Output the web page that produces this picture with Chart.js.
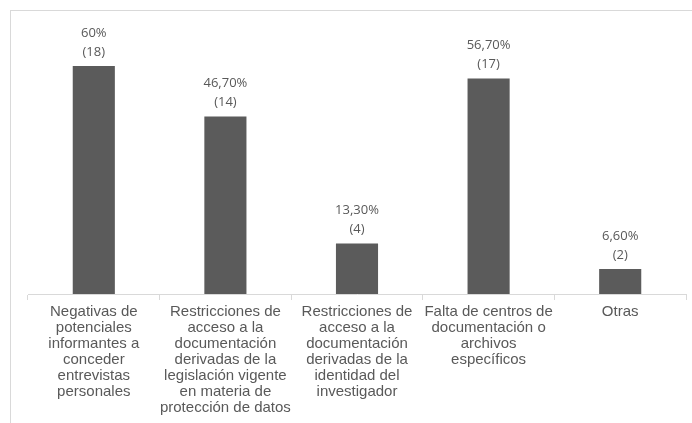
<!DOCTYPE html>
<html>
<head>
<meta charset="utf-8">
<script src="https://cdn.jsdelivr.net/npm/chart.js@4/dist/chart.umd.min.js"></script>
<style>
  html, body { margin: 0; padding: 0; background: #fff; }
  #wrap { position: relative; width: 692px; height: 423px; overflow: hidden; }
  #frame { position: absolute; left: 10px; top: 10px; width: 700px; height: 430px;
           border-left: 1px solid #d9d9d9; border-top: 1px solid #d9d9d9; pointer-events: none; }
</style>
</head>
<body>
<div id="wrap">
  <canvas id="chart" width="692" height="423"></canvas>
  <div id="frame"></div>
</div>
<script>
// categories (wrapped like the original axis labels)
const categories = [
    ['Negativas de', 'potenciales', 'informantes a', 'conceder', 'entrevistas', 'personales'],
    ['Restricciones de', 'acceso a la', 'documentación', 'derivadas de la', 'legislación vigente', 'en materia de', 'protección de datos'],
    ['Restricciones de', 'acceso a la', 'documentación', 'derivadas de la', 'identidad del', 'investigador'],
    ['Falta de centros de', 'documentación o', 'archivos', 'específicos'],
    ['Otras']
];
const percentValues = [60, 46.7, 13.3, 56.7, 6.6];
const countValues = [18, 14, 4, 17, 2];
const percentLabels = ['60%', '46,70%', '13,30%', '56,70%', '6,60%'];

// two-line value labels above each bar
const valueLabels = {
    id: 'valueLabels',
    afterDatasetsDraw(chart) {
        const ctx = chart.ctx;
        const meta = chart.getDatasetMeta(0);
        ctx.save();
        ctx.font = '13px "Open Sans", "Liberation Sans", sans-serif';
        ctx.fillStyle = '#595959';
        ctx.textAlign = 'center';
        ctx.textBaseline = 'middle';
        meta.data.forEach((bar, i) => {
            ctx.fillText(percentLabels[i], bar.x, bar.y - 33);
            ctx.fillText('(' + countValues[i] + ')', bar.x, bar.y - 14);
        });
        ctx.restore();
    }
};

new Chart(document.getElementById('chart').getContext('2d'), {
    type: 'bar',
    data: {
        labels: categories,
        datasets: [{
            data: percentValues,
            backgroundColor: '#5b5b5b',
            borderWidth: 0,
            barPercentage: 0.32,
            categoryPercentage: 1
        }]
    },
    options: {
        responsive: false,
        animation: false,
        layout: { padding: { left: 28, right: 6, top: 28, bottom: 0 } },
        plugins: {
            legend: { display: false },
            tooltip: { enabled: false }
        },
        scales: {
            x: {
                offset: true,
                grid: {
                    offset: true,
                    drawOnChartArea: false,
                    drawTicks: true,
                    tickLength: 6,
                    color: '#d9d9d9'
                },
                border: { color: '#d9d9d9' },
                ticks: {
                    maxRotation: 0,
                    autoSkip: false,
                    padding: 4,
                    color: '#595959',
                    font: { family: '"Liberation Sans", Arial, sans-serif', size: 15, lineHeight: 16 / 15 }
                },
                afterFit: function(scale) { scale.height = 129; }
            },
            y: {
                display: false,
                min: 0,
                max: 70
            }
        }
    },
    plugins: [valueLabels]
});
</script>
</body>
</html>
